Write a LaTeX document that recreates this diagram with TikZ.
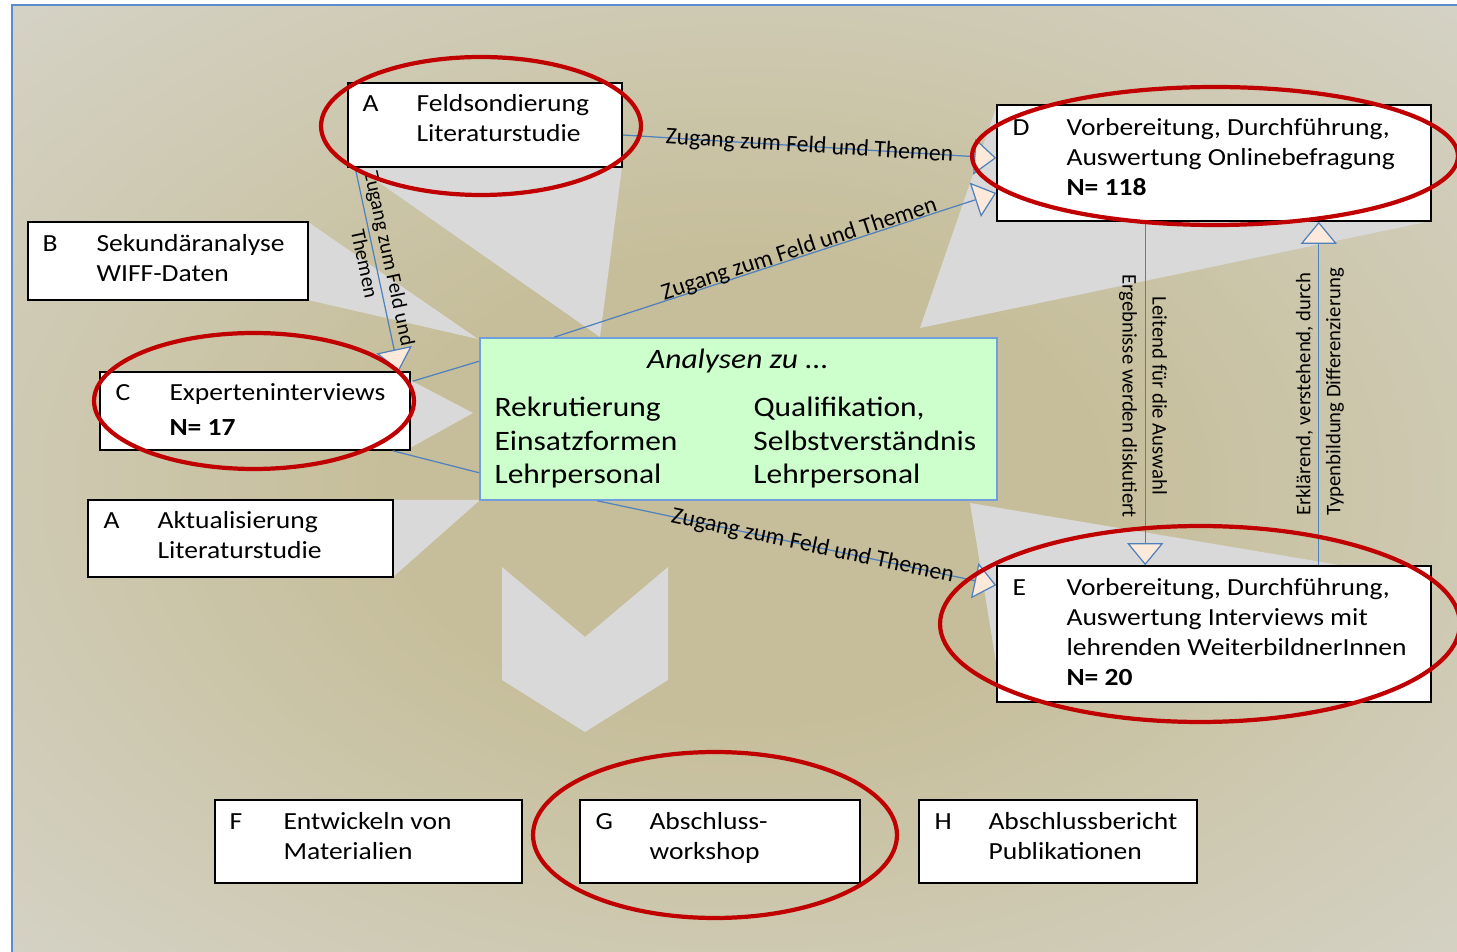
\documentclass[tikz,border=0pt]{standalone}
\usepackage{fontspec}
\setmainfont{Carlito}
\newfontfamily\widefont{Carlito}[FakeStretch=1.12]
\usetikzlibrary{arrows.meta,fit}
\definecolor{bgmid}{RGB}{198,190,154}
\definecolor{bgedge}{RGB}{218,218,214}
\definecolor{frameblue}{RGB}{91,140,205}
\definecolor{conngray}{RGB}{217,217,217}
\definecolor{linkblue}{RGB}{79,129,189}
\definecolor{tippeach}{RGB}{253,233,217}
\definecolor{anfill}{RGB}{204,255,204}
\definecolor{anedge}{RGB}{112,160,220}
\definecolor{ringred}{RGB}{192,0,0}
\pgfdeclareradialshading{bgshade}{\pgfpoint{0bp}{0bp}}{color(0bp)=(bgmid); color(12bp)=(bgmid); color(44bp)=(bgedge); color(72bp)=(bgedge)}
\newcommand{\boxrows}[1]{\begin{tabular}{@{}p{1.08cm}@{}l@{}}#1\end{tabular}}
\tikzset{
    stepbox/.style={
           draw=black, line width=0.9pt,
           fill=white,
           inner sep=0pt
           },
    boxtext/.style={
           anchor=north west,
           inner sep=0pt,
           font=\widefont\fontsize{14}{17}\selectfont
           },
    anbox/.style={
           draw=anedge, line width=0.9pt,
           fill=anfill,
           inner sep=0pt
           },
    link/.style={
           draw=linkblue, line width=0.7pt
           },
    linkarrow/.style={
           link,
           -{Triangle[length=0.44cm,width=0.72cm,fill=tippeach,line width=0.7pt]}
           },
    lbl/.style={
           font=\fontsize{13.5}{16}\selectfont,
           inner sep=1pt
           },
    vlbl/.style={
           font=\fontsize{11.8}{17}\selectfont,
           inner sep=0pt
           },
    ring/.style={
           draw=ringred, line width=2.4pt
           }
}

\begin{document}
\begin{tikzpicture}[x=0.02cm, y=-0.02cm]
   \useasboundingbox (0,0) rectangle (1457,952);
   \clip (0,0) rectangle (1457,952);
   % background
   \shade[shading=bgshade] (12,5) rectangle (1475,968);
   \draw[frameblue, line width=0.8pt] (12,968) -- (12,5) -- (1475,5);

   % grey converging shapes
   \fill[conngray] (357,167) -- (622,167) -- (600,337) -- cycle;
   \fill[conngray] (308,222) -- (308,300) -- (478,339) -- cycle;
   \fill[conngray] (410,380) -- (473,413) -- (410,448) -- cycle;
   \fill[conngray] (393,500) -- (480,500) -- (393,577) -- cycle;
   \fill[conngray] (997,105) -- (920,328) -- (1431,221) -- cycle;
   \fill[conngray] (970,503) -- (1345,566) -- (997,668) -- cycle;
   \fill[conngray] (502,567) -- (585,637) -- (668,567) -- (668,680)
        -- (585,732) -- (502,680) -- cycle;

   % boxes
   \node[stepbox, fit={(348,83) (622,167)}] (feld) {};
   \node[stepbox, fit={(28,222) (308,300)}] (sekund) {};
   \node[stepbox, fit={(100,372) (410,450)}] (expint) {};
   \node[stepbox, fit={(88,500) (393,577)}] (aktual) {};
   \node[stepbox, fit={(997,105) (1431,221)}] (online) {};
   \node[stepbox, fit={(997,566) (1431,702)}] (interv) {};
   \node[stepbox, fit={(215,800) (522,883)}] (mater) {};
   \node[stepbox, fit={(580,800) (860,883)}] (workshop) {};
   \node[stepbox, fit={(919,800) (1197,883)}] (bericht) {};
   \node[anbox, fit={(480,338) (997,500)}] (analysen) {};

   \node[boxtext] (feldtxt) at ([shift={(15,8)}]feld.north west)
        {\boxrows{A & Feldsondierung\\ & Literaturstudie}};
   \node[boxtext] (sekundtxt) at ([shift={(15,9)}]sekund.north west)
        {\boxrows{B & Sekundäranalyse\\ & WIFF-Daten}};
   \node[boxtext] (expinttxt) at ([shift={(16,8)}]expint.north west)
        {\boxrows{C & Experteninterviews\\[3pt] & \textbf{N= 17}}};
   \node[boxtext] (aktualtxt) at ([shift={(16,8)}]aktual.north west)
        {\boxrows{A & Aktualisierung\\ & Literaturstudie}};
   \node[boxtext] (onlinetxt) at ([shift={(16,10)}]online.north west)
        {\boxrows{D & Vorbereitung, Durchführung,\\ & Auswertung Onlinebefragung\\ & \textbf{N= 118}}};
   \node[boxtext] (intervtxt) at ([shift={(16,9)}]interv.north west)
        {\boxrows{E & Vorbereitung, Durchführung,\\ & Auswertung Interviews mit\\ & lehrenden WeiterbildnerInnen\\ & \textbf{N= 20}}};
   \node[boxtext] (matertxt) at ([shift={(15,9)}]mater.north west)
        {\boxrows{F & Entwickeln von\\ & Materialien}};
   \node[boxtext] (workshoptxt) at ([shift={(16,9)}]workshop.north west)
        {\boxrows{G & Abschluss-\\ & workshop}};
   \node[boxtext] (berichttxt) at ([shift={(16,9)}]bericht.north west)
        {\boxrows{H & Abschlussbericht\\ & Publikationen}};

   \node[inner sep=0pt, font=\widefont\fontsize{16}{19}\selectfont\itshape]
        (antitle) at (738,361) {Analysen zu ...};
   \node[boxtext, font=\widefont\fontsize{16}{19}\selectfont] (antext)
        at ([shift={(15,56)}]analysen.north west)
        {\begin{tabular}{@{}p{5.18cm}@{}l@{}}
         Rekrutierung & Qualifikation,\\
         Einsatzformen & Selbstverständnis\\
         Lehrpersonal & Lehrpersonal
         \end{tabular}};

   % connectors
   \draw[linkarrow] ([shift={(0,10)}]feld.east) -- ([shift={(0,-5)}]online.west)
        node[lbl, midway, sloped] {Zugang zum Feld und Themen};
   \draw[linkarrow] ([shift={(75,0)}]analysen.north west) -- ([shift={(0,30)}]online.west)
        node[lbl, pos=0.56, sloped, above=-3pt] {Zugang zum Feld und Themen};
   \draw[linkarrow] ([shift={(8,0)}]feld.south west) -- ([shift={(-12,0)}]expint.north east)
        node[lbl, pos=0.46, sloped, align=center, font=\fontsize{11.8}{14.5}\selectfont, below=-14pt]
        {Zugang zum Feld und\\Themen};
   \draw[link] ([shift={(2,10)}]expint.north east) -- ([shift={(0,24)}]analysen.north west);
   \draw[link] ([shift={(-18,0)}]expint.south east) -- ([shift={(0,-28)}]analysen.south west);
   \draw[linkarrow] ([shift={(118,0)}]analysen.south west) -- ([shift={(0,20)}]interv.north west)
        node[lbl, pos=0.54, sloped] {Zugang zum Feld und Themen};
   \draw[linkarrow] ([shift={(149,0)}]online.south west) -- ([shift={(149,0)}]interv.north west);
   \draw[linkarrow] ([shift={(-113,0)}]interv.north east) -- ([shift={(-113,0)}]online.south east);
   \node[vlbl, rotate=-90, align=center] (auswahl) at (1143,396)
        {Leitend für die Auswahl\\Ergebnisse werden diskutiert};
   \node[vlbl, rotate=90, align=left] (erklaer) at (1320,392)
        {Erklärend, verstehend, durch\\Typenbildung Differenzierung};

   % red rings
   \draw[ring] (481,126) ellipse [x radius=3.2cm, y radius=1.38cm];
   \draw[ring] (254,401) ellipse [x radius=3.2cm, y radius=1.36cm];
   \draw[ring] (1215,156) ellipse [x radius=4.86cm, y radius=1.38cm];
   \draw[ring] (1200,624) ellipse [x radius=5.2cm, y radius=1.96cm];
   \draw[ring] (715,835) ellipse [x radius=3.64cm, y radius=1.66cm];
\end{tikzpicture}
\end{document}
